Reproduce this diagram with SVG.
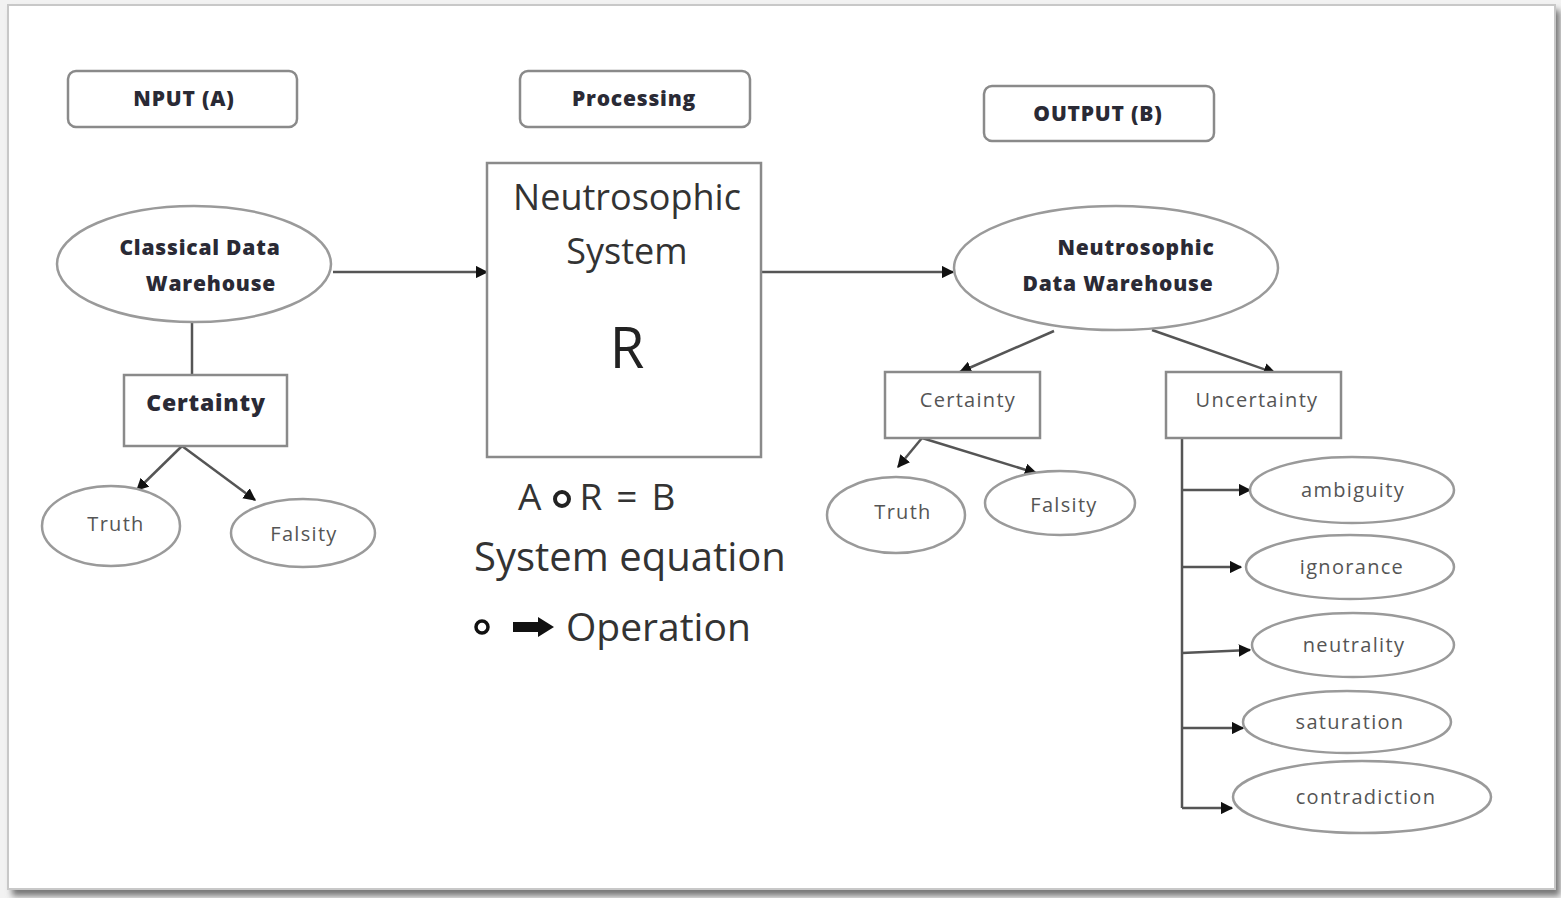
<svg xmlns="http://www.w3.org/2000/svg" width="1561" height="898" viewBox="0 0 1561 898">
<defs>
<marker id="ah" viewBox="0 0 10 10" refX="9" refY="5" markerWidth="5" markerHeight="5" orient="auto" markerUnits="strokeWidth">
<path d="M0,0 L10,5 L0,10 z" fill="#111"/>
</marker>
<filter id="sh" x="-5%" y="-5%" width="110%" height="110%">
<feGaussianBlur stdDeviation="3"/>
</filter>
<style>
.box{fill:#fff;stroke:#8a8a8a;stroke-width:2.5}
.ov{fill:#fff;stroke:#9a9a9a;stroke-width:2.5}
.con{fill:none;stroke:#555;stroke-width:2.5}
.hd{font-family:"Open Sans","Noto Sans",sans-serif;font-weight:800;font-size:21px;letter-spacing:0.8px;fill:#2a2a35;text-anchor:middle}
.lb{font-family:"Open Sans","Noto Sans",sans-serif;font-size:20px;letter-spacing:1.3px;fill:#555;text-anchor:middle}
.big{font-family:"Open Sans","Noto Sans",sans-serif;font-size:36px;fill:#333;text-anchor:middle}
.st{text-anchor:start}
</style>
</defs>
<rect x="0" y="0" width="1561" height="898" fill="#f2f2f2"/>
<rect x="12" y="10" width="1548" height="886" fill="#777" filter="url(#sh)"/>
<rect x="8" y="5" width="1547" height="884" fill="#fff" stroke="#c8c8c8" stroke-width="2"/>

<g id="connectors">
<line class="con" x1="333" y1="272" x2="487" y2="272" marker-end="url(#ah)"/>
<line class="con" x1="761" y1="272" x2="953" y2="272" marker-end="url(#ah)"/>
<line class="con" x1="192" y1="323" x2="192" y2="375"/>
<line class="con" x1="182" y1="446" x2="137" y2="490" marker-end="url(#ah)"/>
<line class="con" x1="182" y1="446" x2="255" y2="500" marker-end="url(#ah)"/>
<line class="con" x1="1054" y1="331" x2="960" y2="372" marker-end="url(#ah)"/>
<line class="con" x1="1152" y1="330" x2="1275" y2="373" marker-end="url(#ah)"/>
<line class="con" x1="922" y1="438" x2="898" y2="467" marker-end="url(#ah)"/>
<line class="con" x1="922" y1="438" x2="1036" y2="473" marker-end="url(#ah)"/>
<line class="con" x1="1182" y1="438" x2="1182" y2="808"/>
<line class="con" x1="1182" y1="490" x2="1250" y2="490" marker-end="url(#ah)"/>
<line class="con" x1="1182" y1="567" x2="1241" y2="567" marker-end="url(#ah)"/>
<line class="con" x1="1182" y1="653" x2="1250" y2="650" marker-end="url(#ah)"/>
<line class="con" x1="1182" y1="728" x2="1243" y2="728" marker-end="url(#ah)"/>
<line class="con" x1="1182" y1="808" x2="1232" y2="808" marker-end="url(#ah)"/>
</g>

<g id="input-label"><rect class="box" x="68" y="71" width="229" height="56" rx="8"/><text class="hd" x="184" y="106">NPUT (A)</text></g>
<g id="processing-label"><rect class="box" x="520" y="71" width="230" height="56" rx="8"/><text class="hd" x="634" y="106">Processing</text></g>
<g id="output-label"><rect class="box" x="984" y="86" width="230" height="55" rx="8"/><text class="hd" x="1098" y="121">OUTPUT (B)</text></g>

<g id="classical-dw"><ellipse class="ov" cx="194" cy="264" rx="137" ry="58"/><text class="hd" x="200" y="255">Classical Data</text><text class="hd" x="211" y="291">Warehouse</text></g>

<g id="neutro-system"><rect class="box" x="487" y="163" width="274" height="294"/>
<text class="big" x="627" y="210">Neutrosophic</text>
<text class="big" x="627" y="264">System</text>
<text x="627" y="368" font-family="Open Sans, Noto Sans, sans-serif" font-size="56" fill="#222" text-anchor="middle">R</text></g>

<g id="equation">
<text class="big st" x="518" y="510" style="font-size:37px">A<tspan dx="38">R</tspan><tspan dx="14">=</tspan><tspan dx="14">B</tspan></text>
<circle cx="562" cy="499" r="7" fill="none" stroke="#222" stroke-width="4"/>
<text class="big" x="630" y="571" style="font-size:40px">System equation</text>
<text class="big st" x="566" y="641" style="font-size:39px">Operation</text>
<circle cx="482" cy="627" r="6" fill="none" stroke="#111" stroke-width="3.5"/>
<path d="M513,622 L538,622 L538,617 L554,627 L538,637 L538,632 L513,632 z" fill="#111"/>
</g>

<g id="neutro-dw"><ellipse class="ov" cx="1116" cy="268" rx="162" ry="62"/><text class="hd" x="1136" y="255">Neutrosophic</text><text class="hd" x="1118" y="291">Data Warehouse</text></g>

<g id="certainty-left"><rect class="box" x="124" y="375" width="163" height="71"/><text class="hd" x="206" y="411" style="font-size:23px">Certainty</text></g>
<g id="truth-left"><ellipse class="ov" cx="111" cy="526" rx="69" ry="40"/><text class="lb" x="116" y="531">Truth</text></g>
<g id="falsity-left"><ellipse class="ov" cx="303" cy="533" rx="72" ry="34"/><text class="lb" x="304" y="541">Falsity</text></g>

<g id="certainty-right"><rect class="box" x="885" y="372" width="155" height="66"/><text class="lb" x="968" y="407">Certainty</text></g>
<g id="uncertainty"><rect class="box" x="1166" y="372" width="175" height="66"/><text class="lb" x="1257" y="407">Uncertainty</text></g>
<g id="truth-right"><ellipse class="ov" cx="896" cy="515" rx="69" ry="38"/><text class="lb" x="903" y="519">Truth</text></g>
<g id="falsity-right"><ellipse class="ov" cx="1060" cy="503" rx="75" ry="32"/><text class="lb" x="1064" y="512">Falsity</text></g>

<g id="ambiguity"><ellipse class="ov" cx="1352" cy="490" rx="102" ry="33"/><text class="lb" x="1353" y="497">ambiguity</text></g>
<g id="ignorance"><ellipse class="ov" cx="1350" cy="567" rx="104" ry="32"/><text class="lb" x="1352" y="574">ignorance</text></g>
<g id="neutrality"><ellipse class="ov" cx="1353" cy="645" rx="101" ry="32"/><text class="lb" x="1354" y="652">neutrality</text></g>
<g id="saturation"><ellipse class="ov" cx="1347" cy="722" rx="104" ry="31"/><text class="lb" x="1350" y="729">saturation</text></g>
<g id="contradiction"><ellipse class="ov" cx="1362" cy="797" rx="129" ry="36"/><text class="lb" x="1366" y="804">contradiction</text></g>
</svg>
